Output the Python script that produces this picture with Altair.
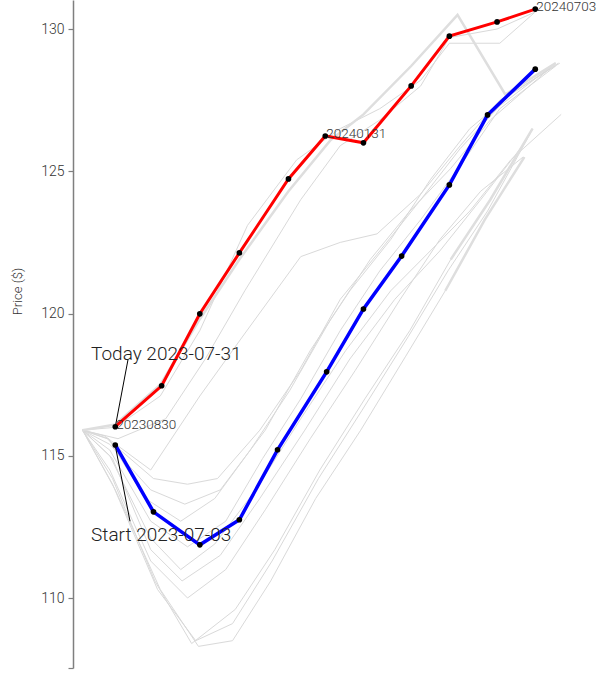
import altair as alt
import pandas as pd

# Day 0 of the horizontal axis ("Today")
ORIGIN = pd.Timestamp("2023-07-31")

# Realised path (red) and projected path (blue)
red_dates = ["2023-08-30", "2023-10-03", "2023-10-31", "2023-11-29", "2024-01-04",
             "2024-01-31", "2024-02-28", "2024-04-03", "2024-05-01", "2024-06-05",
             "2024-07-03"]
red_prices = [116.02, 117.46, 119.99, 122.13, 124.73, 126.24, 126.00, 128.00,
              129.75, 130.25, 130.70]

blue_dates = ["2023-08-30", "2023-09-27", "2023-10-31", "2023-11-29", "2023-12-27",
              "2024-02-01", "2024-02-28", "2024-03-27", "2024-05-01", "2024-05-29",
              "2024-07-03"]
blue_prices = [115.38, 113.03, 111.87, 112.75, 115.21, 117.95, 120.16, 122.02,
               124.52, 126.98, 128.59]

labelled_dates = ["2023-08-30", "2024-01-31", "2024-07-03"]

# Historical analogue paths: (day offset, price)
thin_paths = {
    "g1": [(6, 115.9), (30, 116.0), (63, 117.1), (92, 119.4), (127, 123.1), (163, 125.4),
           (195, 126.5), (224, 127.2), (254, 128.2), (275, 129.5), (312, 129.5), (338, 130.6)],
    "g2": [(6, 115.9), (32, 115.6), (67, 116.3), (96, 118.4), (125, 120.8), (166, 124.0),
           (195, 125.9), (224, 126.8), (254, 128.0), (275, 129.7), (310, 130.0), (338, 130.6)],
    "b1": [(6, 115.9), (24, 115.6), (58, 114.2), (83, 114.0), (105, 114.2), (136, 115.9),
           (166, 118.0), (195, 120.5), (224, 122.2), (254, 124.0), (283, 125.8), (312, 127.3),
           (353, 128.8)],
    "b2": [(6, 115.9), (26, 115.4), (56, 113.8), (81, 113.3), (107, 113.8), (140, 115.9),
           (173, 118.7), (202, 120.8), (232, 122.6), (261, 124.7), (290, 126.5), (320, 127.7),
           (355, 128.8)],
    "b3": [(6, 115.9), (22, 115.7), (56, 114.5), (92, 117.1), (122, 119.1), (166, 122.0),
           (195, 122.5), (222, 122.8), (254, 124.2), (283, 125.9), (312, 127.5), (356, 128.8)],
    "b4": [(6, 115.9), (25, 115.6), (52, 113.5), (78, 112.7), (103, 113.5), (129, 115.2),
           (158, 117.3), (188, 119.8), (217, 121.9), (246, 123.6), (276, 125.1), (305, 126.8),
           (353, 128.8)],
    "b5": [(6, 115.9), (26, 115.2), (56, 112.7), (83, 111.8), (111, 112.7), (138, 114.9),
           (166, 117.0), (195, 119.4), (224, 121.5), (254, 123.3), (283, 125.2), (312, 127.2),
           (353, 128.7)],
    "m1": [(6, 115.9), (26, 115.0), (56, 112.1), (78, 111.0), (103, 111.9), (133, 113.8),
           (166, 116.3), (199, 118.7), (232, 120.8), (261, 122.2), (290, 123.6), (320, 125.4),
           (357, 127.0)],
    "m2": [(6, 115.9), (28, 114.9), (56, 111.7), (79, 110.6), (107, 111.5), (136, 113.5),
           (169, 115.9), (202, 118.4), (235, 120.5), (268, 122.2), (298, 124.0), (327, 125.8)],
    "l1": [(6, 115.9), (26, 114.5), (56, 111.3), (83, 110.0), (111, 111.0), (140, 113.1),
           (173, 115.6), (206, 118.0), (239, 120.5), (268, 122.6), (298, 124.3), (329, 125.5)],
    "l4": [(6, 115.9), (28, 114.0), (61, 110.3), (89, 108.5), (116, 109.1), (145, 111.3),
           (179, 114.2), (211, 116.6), (245, 119.2), (274, 121.5), (303, 123.6), (334, 126.3)],
    "l2": [(6, 115.9), (28, 114.2), (59, 110.6), (86, 108.4), (118, 109.6), (147, 111.7),
           (180, 114.5), (213, 117.0), (246, 119.4), (276, 121.9), (305, 124.0), (336, 126.5)],
    "l3": [(6, 115.9), (30, 113.8), (63, 110.3), (91, 108.3), (116, 108.5), (144, 110.6),
           (177, 113.5), (210, 115.9), (243, 118.5), (272, 120.8), (301, 123.3), (330, 125.5)],
}
thick_paths = {
    "t1": [(6, 115.9), (30, 116.1), (63, 117.5), (92, 119.8), (121, 121.9), (157, 124.3),
           (188, 126.1), (212, 127.0), (247, 128.7), (281, 130.5), (316, 127.7), (353, 128.8)],
    "e2": [(276, 121.9), (305, 124.0), (336, 126.5)],
    "e3": [(272, 120.8), (301, 123.3), (330, 125.5)],
}

# Annotation texts and arrow ends (day, price)
notes = ["Today 2023-07-31", "Start 2023-07-03"]
note_pos = [(12.2, 118.58), (12.2, 112.22)]
arrow_from = [(39.3, 118.37), (40.8, 112.70)]
arrow_to = [(30.3, 116.09), (30.3, 115.28)]

FONT = "Roboto"
X_DOMAIN = [-1, 395]
Y_DOMAIN = [107.54, 131.02]


def to_day(d):
    return (pd.Timestamp(d) - ORIGIN).days


def path_frame(paths):
    rows = []
    for name, pts in paths.items():
        for i, (d, p) in enumerate(pts):
            rows.append({"path": name, "order": i, "day": d, "price": p})
    return pd.DataFrame(rows)


red = pd.DataFrame({"day": [to_day(d) for d in red_dates], "price": red_prices})
blue = pd.DataFrame({"day": [to_day(d) for d in blue_dates], "price": blue_prices})
labels = red[red["day"].isin([to_day(d) for d in labelled_dates])].copy()
labels["text"] = [pd.Timestamp(d).strftime("%Y%m%d") for d in labelled_dates]

notes_df = pd.DataFrame({"text": notes,
                         "day": [p[0] for p in note_pos],
                         "price": [p[1] for p in note_pos]})
arrows_df = pd.DataFrame({"day": [a[0] for a in arrow_from],
                          "price": [a[1] for a in arrow_from],
                          "day2": [a[0] for a in arrow_to],
                          "price2": [a[1] for a in arrow_to]})

x = alt.X("day:Q", scale=alt.Scale(domain=X_DOMAIN, nice=False, zero=False), axis=None)
y = alt.Y("price:Q",
          scale=alt.Scale(domain=Y_DOMAIN, nice=False, zero=False),
          axis=alt.Axis(values=[Y_DOMAIN[0], 110, 115, 120, 125, 130],
                        labelExpr="datum.value < 109 ? '' : datum.label",
                        title="Price ($)", grid=False,
                        titleX=-56, titleY=291, titleAngle=270,
                        titleAlign="center", titleBaseline="middle"))

thin = alt.Chart(path_frame(thin_paths)).mark_line(
    color="#d9d9d9", strokeWidth=1
).encode(x=x, y=y, detail="path:N", order="order:Q")

thick = alt.Chart(path_frame(thick_paths)).mark_line(
    color="#dedede", strokeWidth=2.5
).encode(x=x, y=y, detail="path:N", order="order:Q")

red_line = alt.Chart(red).mark_line(color="#ff0000", strokeWidth=3).encode(x=x, y=y)
blue_line = alt.Chart(blue).mark_line(color="#0000ff", strokeWidth=3.5).encode(x=x, y=y)
dots = alt.Chart(pd.concat([red, blue])).mark_circle(
    color="black", size=32, opacity=1
).encode(x=x, y=y)

date_labels = alt.Chart(labels).mark_text(
    align="left", baseline="alphabetic", dx=1, dy=2,
    font=FONT, fontSize=13.5, fontWeight=300, color="#333333"
).encode(x=x, y=y, text="text:N")

arrow_lines = alt.Chart(arrows_df).mark_rule(color="black", strokeWidth=1).encode(
    x=x, y=y, x2="day2:Q", y2="price2:Q")

note_text = alt.Chart(notes_df).mark_text(
    align="left", baseline="middle", font=FONT, fontSize=19, fontWeight=300,
    color="#222222"
).encode(x=x, y=y, text="text:N")

chart = alt.layer(
    thin, thick, red_line, blue_line, arrow_lines, dots, date_labels, note_text
).properties(
    width=540, height=668,
    autosize=alt.AutoSizeParams(type="none"),
    padding={"left": 73, "top": 0, "right": 0, "bottom": 9},
    background="white",
).configure_view(stroke=None).configure_axis(
    domainColor="#7f7f7f", domainWidth=1.5, tickColor="#7f7f7f", tickSize=5,
    tickWidth=1.2, labelFont=FONT, labelFontSize=14, labelFontWeight=300,
    labelColor="#333333", labelPadding=4, titleFont=FONT, titleFontSize=13,
    titleFontWeight=300, titleColor="#333333",
)

chart.save("out.html", embed_options={"renderer": "svg", "actions": False})
